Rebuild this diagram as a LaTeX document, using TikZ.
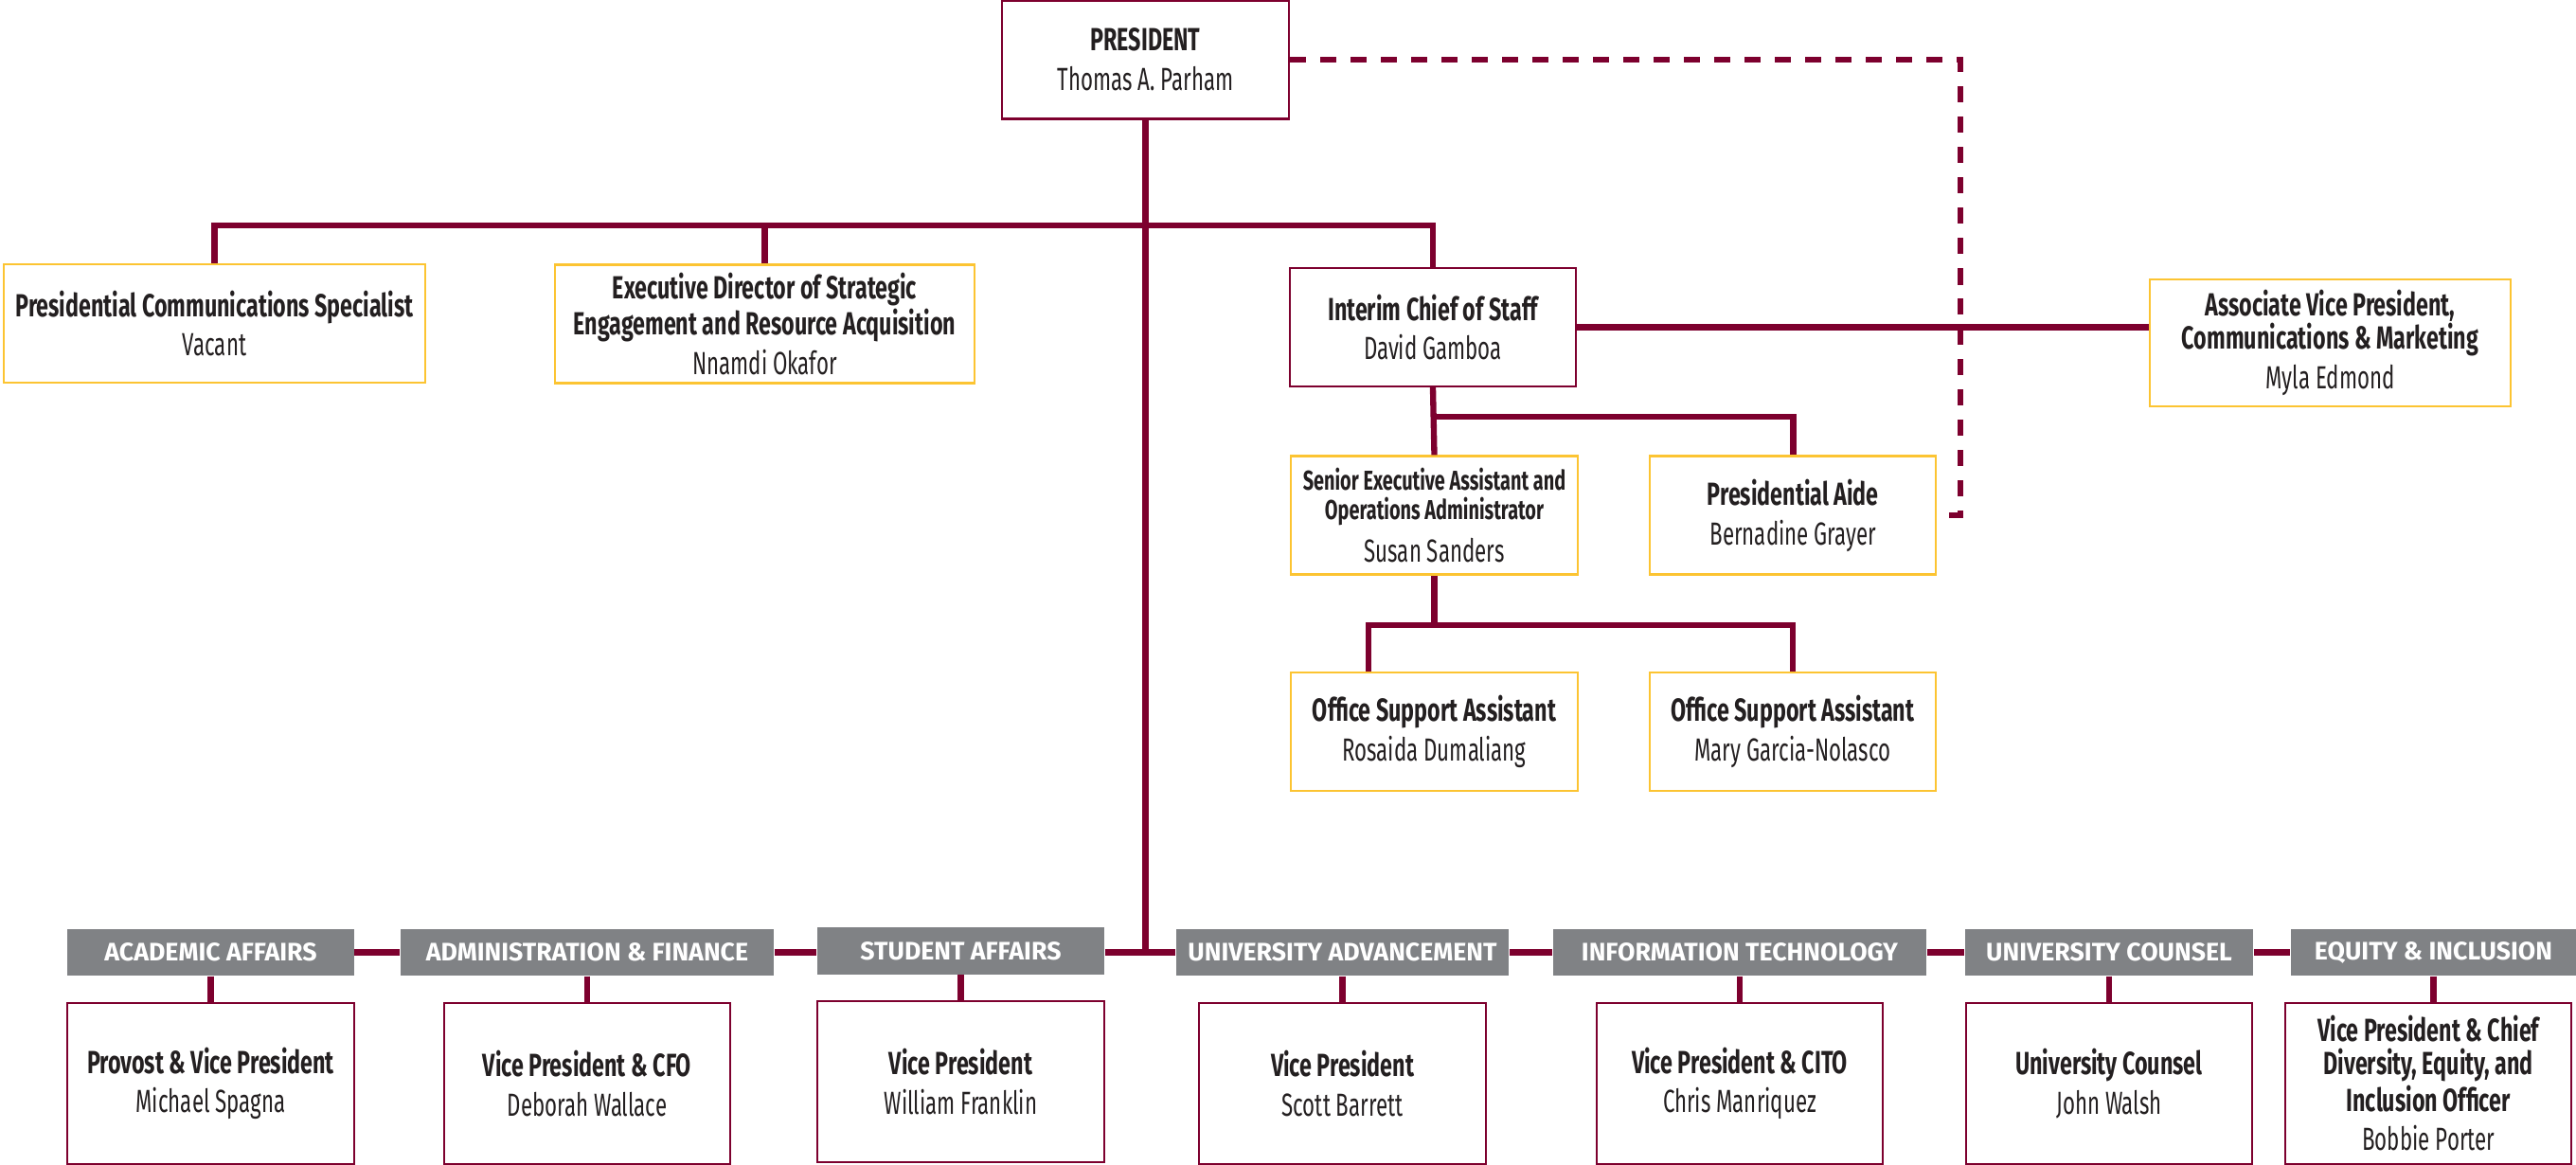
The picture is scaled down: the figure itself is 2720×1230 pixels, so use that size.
\documentclass[tikz,border=0pt]{standalone}
\usepackage{fontspec}
\setmainfont{Fira Sans}
\newfontfamily\titlefont{Fira Sans}[FakeStretch=0.69]
\newfontfamily\namefont{Fira Sans}[FakeStretch=0.66]
\newfontfamily\headfont{Fira Sans}[FakeStretch=1.0]
\usepackage{tikz}
\usetikzlibrary{positioning}

\definecolor{maroon}{RGB}{125,0,46}
\definecolor{gold}{RGB}{252,196,50}
\definecolor{unitgray}{RGB}{128,130,133}
\definecolor{ink}{RGB}{35,31,32}

\newcommand{\personname}{\namefont\mdseries}

\begin{document}
\begin{tikzpicture}[x=0.01cm, y=-0.01cm,
  goldbox/.style={draw=gold, line width=0.6pt, fill=white, align=center, minimum height=1.25cm, inner sep=2pt, text=ink, font=\titlefont\bfseries\fontsize{9.6}{9.9}\selectfont},
  redbox/.style={goldbox, draw=maroon},
  vpbox/.style={redbox, minimum width=3.02cm, minimum height=1.7cm},
  unitbox/.style={fill=unitgray, text=white, minimum height=0.49cm, inner sep=0pt, font=\headfont\bfseries\fontsize{7.6}{8}\selectfont},
  orgline/.style={draw=maroon, line width=1.8pt},
  dashline/.style={orgline, line width=1.5pt, dash pattern=on 4.8pt off 4.3pt}]
\useasboundingbox (0,0) rectangle (2720,1230);

% Office of the president
\node[redbox, minimum width=3.03cm] (pres) at (1209.5,63) {PRESIDENT\\[2pt]\personname Thomas A. Parham};
\node[goldbox, minimum width=4.45cm] (pcs) at (226.5,341.5) {Presidential Communications Specialist\\[2pt]\personname Vacant};
\node[goldbox, minimum width=4.43cm] (ed) at (807.5,342) {Executive Director of Strategic\\Engagement and Resource Acquisition\\[2pt]\personname Nnamdi Okafor};
\node[redbox, minimum width=3.02cm] (cos) at (1513,345.5) {Interim Chief of Staff\\[2pt]\personname David Gamboa};
\node[goldbox, minimum width=3.81cm, minimum height=1.34cm] (avp) at (2460.5,362) {Associate Vice President,\\Communications \& Marketing\\[2pt]\personname Myla Edmond};
\node[goldbox, minimum width=3.03cm, font=\titlefont\bfseries\fontsize{8.2}{8.8}\selectfont] (sea) at (1514.5,544) {Senior Executive Assistant and\\Operations Administrator\\[3pt]\personname\fontsize{9.6}{9.9}\selectfont Susan Sanders};
\node[goldbox, minimum width=3.02cm] (aide) [right=0.74cm of sea] {Presidential Aide\\[2pt]\personname Bernadine Grayer};
\node[goldbox, minimum width=3.02cm] (osa1) [below=1.01cm of sea] {Office Support Assistant\\[2pt]\personname Rosaida Dumaliang};
\node[goldbox, minimum width=3.02cm] (osa2) [right=0.74cm of osa1] {Office Support Assistant\\[2pt]\personname Mary Garcia-Nolasco};

% Divisions
\node[unitbox, minimum width=3.02cm] (aah) at (222.5,1005.5) {ACADEMIC AFFAIRS};
\node[unitbox, minimum width=3.94cm] (afh) at (620,1005.5) {ADMINISTRATION \& FINANCE};
\node[unitbox, minimum width=3.03cm] (sah) at (1014.5,1004) {STUDENT AFFAIRS};
\node[unitbox, minimum width=3.51cm] (uah) at (1417.5,1005.5) {UNIVERSITY ADVANCEMENT};
\node[unitbox, minimum width=3.94cm] (ith) at (1837,1005.5) {INFORMATION TECHNOLOGY};
\node[unitbox, minimum width=3.04cm] (uch) at (2227,1005.5) {UNIVERSITY COUNSEL};
\node[unitbox, minimum width=3.01cm] (eih) at (2569.5,1005.5) {EQUITY \& INCLUSION};

\node[vpbox] (aa) [below=0.27cm of aah] {Provost \& Vice President\\[2pt]\personname Michael Spagna};
\node[vpbox] (af) [below=0.27cm of afh] {Vice President \& CFO\\[2pt]\personname Deborah Wallace};
\node[vpbox] (sa) [below=0.27cm of sah] {Vice President\\[2pt]\personname William Franklin};
\node[vpbox] (ua) [below=0.27cm of uah] {Vice President\\[2pt]\personname Scott Barrett};
\node[vpbox] (it) [below=0.27cm of ith] {Vice President \& CITO\\[2pt]\personname Chris Manriquez};
\node[vpbox] (uc) [below=0.27cm of uch] {University Counsel\\[2pt]\personname John Walsh};
\node[vpbox, xshift=-1.5] (ei) [below=0.27cm of eih] {Vice President \& Chief\\Diversity, Equity, and\\Inclusion Officer\\[2pt]\personname Bobbie Porter};

% Bus points
\coordinate (topbus) at (1209.5,238);
\coordinate (cosbus) at (1513,440);
\coordinate (seabus) at (1445,660);
\coordinate (dashturn) at (2070,300);

% Lines
\draw[orgline] (pres.south) -- (pres.south |- aah.east);
\draw[orgline] (pcs.north) |- (topbus) -| (cos.north);
\draw[orgline] (ed.north) -- (ed.north |- topbus);
\draw[orgline] (cos.east) -- (cos.east -| avp.west);
\draw[orgline] (cos.south) -- (sea.north);
\draw[orgline] (cos.south |- cosbus) -| (aide.north);
\draw[orgline] (sea.south) -- (sea.south |- seabus);
\draw[orgline] (seabus |- osa1.north) -- (seabus) -| (osa2.north);
\draw[dashline] (pres.east) -| (dashturn) |- (aide.east);

\draw[orgline] (aah.east) -- (afh.west);
\draw[orgline] (afh.east) -- (sah.west |- afh.east);
\draw[orgline] (sah.east |- afh.east) -- (uah.west);
\draw[orgline] (uah.east) -- (ith.west);
\draw[orgline] (ith.east) -- (uch.west);
\draw[orgline] (uch.east) -- (eih.west);

\draw[orgline] (aah.south) -- (aa.north);
\draw[orgline] (afh.south) -- (af.north);
\draw[orgline] (sah.south) -- (sa.north);
\draw[orgline] (uah.south) -- (ua.north);
\draw[orgline] (ith.south) -- (it.north);
\draw[orgline] (uch.south) -- (uc.north);
\draw[orgline] (eih.south) -- (eih.south |- ei.north);

\end{tikzpicture}
\end{document}
